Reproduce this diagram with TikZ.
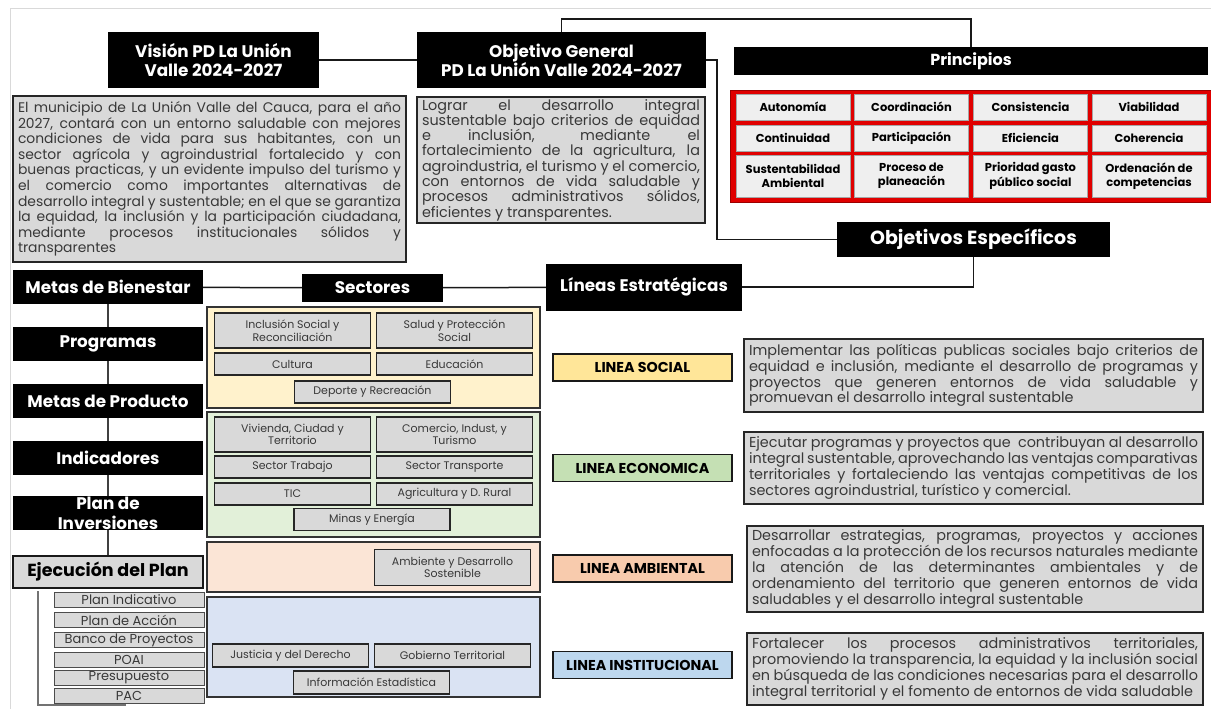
\documentclass[tikz,border=0pt]{standalone}
\usepackage{fontspec}
\setmainfont{Poppins}
\definecolor{boxgray}{HTML}{D9D9D9}
\definecolor{txtgray}{HTML}{383838}
\definecolor{cellgray}{HTML}{EFEFEF}
\definecolor{prinred}{HTML}{E00000}
\definecolor{socFrame}{HTML}{FFF2CC}
\definecolor{ecoFrame}{HTML}{E2F0D9}
\definecolor{ambFrame}{HTML}{FBE5D6}
\definecolor{insFrame}{HTML}{DAE3F3}
\definecolor{socFill}{HTML}{FFE699}
\definecolor{ecoFill}{HTML}{C5E0B4}
\definecolor{ambFill}{HTML}{F8CBAD}
\definecolor{insFill}{HTML}{BDD7EE}
\tikzset{
  hdr/.style     ={fill=black, text=white, inner sep=0pt, align=center,
                   font=\bfseries\fontsize{16.8}{19}\selectfont},
  colhdr/.style  ={hdr, minimum width=190pt, minimum height=34pt},
  txtbox/.style  ={draw=black!85, line width=1.8pt, fill=boxgray, text=txtgray,
                   align=justify, inner xsep=5pt, inner ysep=0pt,
                   font=\fontsize{13.9}{15.6}\selectfont},
  ltxt/.style    ={txtbox, line width=1.6pt, font=\fontsize{14.4}{15.8}\selectfont},
  pcell/.style   ={fill=cellgray, draw=black!35, line width=0.5pt, inner sep=0pt,
                   align=center, minimum width=114pt,
                   font=\bfseries\fontsize{11.5}{14.5}\selectfont},
  sframe/.style  ={draw=black!80, line width=1.3pt, inner sep=0pt,
                   minimum width=333pt},
  sec/.style     ={fill=boxgray, draw=black!85, line width=1.2pt, text=txtgray,
                   inner sep=0pt, align=center, minimum width=156pt,
                   font=\fontsize{11}{12.5}\selectfont},
  linea/.style   ={draw=black!90, line width=1.8pt, inner sep=0pt,
                   minimum width=179pt, minimum height=27pt,
                   font=\bfseries\fontsize{14.3}{16}\selectfont},
  plan/.style    ={fill=boxgray, draw=black!70, line width=1pt, text=txtgray,
                   inner sep=0pt, minimum width=150pt, minimum height=15pt,
                   font=\fontsize{13}{14}\selectfont},
  link/.style    ={draw=black!90, line width=1.5pt},
  chain/.style   ={draw=black!75, line width=1.3pt},
  brk/.style     ={draw=black!55, line width=1.3pt},
  pageframe/.style={draw=black!15, line width=1pt},
}

\begin{document}
\begin{tikzpicture}[x=1pt, y=-1pt]
\useasboundingbox (0,0) rectangle (1211,709);

% --- page frame ---
\draw[pageframe] (10,709) -- (10,9) -- (1211,9);

% --- top headers ---
\node[hdr, minimum width=211pt, minimum height=56pt] (vision) at (213.5,60)
  {Visión PD La Unión\\Valle 2024-2027};
\node[hdr, minimum width=289pt, minimum height=56pt] (objgen) at (561.5,60)
  {Objetivo General\\PD La Unión Valle 2024-2027};
\node[hdr, minimum width=474pt, minimum height=28pt,
      font=\bfseries\fontsize{16}{18}\selectfont] (princ) at (971,61)
  {Principios};
\node[hdr, minimum width=273pt, minimum height=35pt,
      font=\bfseries\fontsize{19}{21}\selectfont] (objesp) at (973.5,239.5)
  {Objetivos Específicos};

% --- vision / objetivo texts ---
\node[txtbox, text width=383pt, minimum height=166pt] (visionTxt) at (209.5,179)
  {El municipio de La Unión Valle del Cauca, para el año\linebreak
   2027, contará con un entorno saludable con mejores\linebreak
   condiciones de vida para sus habitantes, con un\linebreak
   sector agrícola y agroindustrial fortalecido y con\linebreak
   buenas practicas, y un evidente impulso del turismo y\linebreak
   el comercio como importantes alternativas de\linebreak
   desarrollo integral y sustentable; en el que se garantiza\linebreak
   la equidad, la inclusión y la participación ciudadana,\linebreak
   mediante procesos institucionales sólidos y\linebreak
   transparentes};

\node[txtbox, text width=278pt, minimum height=126pt,
      font=\fontsize{14.4}{15.3}\selectfont] (objTxt) at (561,160)
  {Lograr el desarrollo integral\linebreak
   sustentable bajo criterios de equidad\linebreak
   e inclusión, mediante el\linebreak
   fortalecimiento de la agricultura, la\linebreak
   agroindustria, el turismo y el comercio,\linebreak
   con entornos de vida saludable y\linebreak
   procesos administrativos sólidos,\linebreak
   eficientes y transparentes.};

% --- principios grid ---
\node[fill=prinred, draw=prinred!70!black, line width=0.8pt, inner sep=0pt,
      minimum width=481pt, minimum height=112pt] (princFrame) at (970.5,146) {};
\node[pcell, minimum height=26pt] (autonomia)    at (793,107)    {Autonomía};
\node[pcell, minimum height=26pt] (coordinacion) at (911.5,107)  {Coordinación};
\node[pcell, minimum height=26pt] (consistencia) at (1030.5,107) {Consistencia};
\node[pcell, minimum height=26pt] (viabilidad)   at (1149,107)   {Viabilidad};
\node[pcell, minimum height=26pt] (continuidad)  at (793,138)    {Continuidad};
\node[pcell, minimum height=26pt] (participacion) at (911.5,138) {Participación};
\node[pcell, minimum height=26pt] (eficiencia)   at (1030.5,138) {Eficiencia};
\node[pcell, minimum height=26pt] (coherencia)   at (1149,138)   {Coherencia};
\node[pcell, minimum height=42pt] (sustentab)    at (793,176)    {Sustentabilidad\\Ambiental};
\node[pcell, minimum height=42pt] (planeacion)   at (911.5,176)  {Proceso de\\planeación};
\node[pcell, minimum height=42pt] (prioridad)    at (1030.5,176) {Prioridad gasto\\público social};
\node[pcell, minimum height=42pt] (ordenacion)   at (1149,176)   {Ordenación de\\competencias};

% --- left column ---
\node[colhdr] (metasB)  at (108,287) {Metas de Bienestar};
\node[colhdr] (prog)    at (108,344) {Programas};
\node[colhdr] (metasP)  at (108,401) {Metas de Producto};
\node[colhdr] (indic)   at (108,458) {Indicadores};
\node[colhdr, font=\bfseries\fontsize{16.8}{20}\selectfont] (planInv) at (108,513)
  {Plan de\\Inversiones};
\node[fill=boxgray, draw=black!90, line width=2pt, inner sep=0pt,
      minimum width=190pt, minimum height=32pt,
      font=\bfseries\fontsize{17.5}{19}\selectfont] (ejec) at (108,572)
  {Ejecución del Plan};

\node[plan] (planInd)  at (129,600)   {Plan Indicativo};
\node[plan] (planAcc)  at (129,620)   {Plan de Acción};
\node[plan] (banco)    at (129,640)   {Banco de Proyectos};
\node[plan] (poai)     at (129,659.5) {POAI};
\node[plan] (presup)   at (129,678)   {Presupuesto};
\node[plan] (pac)      at (129,695.5) {PAC};

\coordinate (brkTop) at (38,591);
\coordinate (brkEnd) at (126,705);
\draw[brk] (brkTop) |- (brkEnd);

\draw[chain] (metasB) -- (prog) -- (metasP) -- (indic) -- (planInv) -- (ejec);

% --- sectores ---
\node[hdr, minimum width=141pt, minimum height=28pt] (sectores) at (372.5,288)
  {Sectores};

\node[sframe, fill=socFrame, minimum height=101pt] (socBox) at (373.5,357.5) {};
\node[sframe, fill=ecoFrame, minimum height=125pt] (ecoBox) at (373.5,474.5) {};
\node[sframe, fill=ambFrame, minimum height=50pt]  (ambBox) at (373.5,567)   {};
\node[sframe, fill=insFrame, minimum height=100pt] (insBox) at (373.5,647)   {};

\node[sec, minimum height=35pt] (inclusion) at (292.5,330.5) {Inclusión Social y\\Reconciliación};
\node[sec, minimum height=35pt] (salud)     at (454.5,330.5) {Salud y Protección\\Social};
\node[sec, minimum height=22pt] (cultura)   at (292.5,364)   {Cultura};
\node[sec, minimum height=22pt] (educacion) at (454.5,364)   {Educación};
\node[sec, minimum height=22pt] (deporte)   at (372.5,392)   {Deporte y Recreación};

\node[sec, minimum height=35pt] (vivienda)  at (292.5,434.5) {Vivienda, Ciudad y\\Territorio};
\node[sec, minimum height=35pt] (comercio)  at (454.5,434.5) {Comercio, Indust, y\\Turismo};
\node[sec, minimum height=22pt] (trabajo)   at (292.5,467)   {Sector Trabajo};
\node[sec, minimum height=22pt] (transporte) at (454.5,467)  {Sector Transporte};
\node[sec, minimum height=22pt] (tic)       at (292.5,494)   {TIC};
\node[sec, minimum height=22pt] (agricult)  at (454.5,494)   {Agricultura y D. Rural};
\node[sec, minimum height=22pt] (minas)     at (372,519.5)   {Minas y Energía};

\node[sec, minimum height=36pt] (ambiente)  at (452.5,567.5) {Ambiente y Desarrollo\\Sostenible};

\node[sec, minimum height=23pt] (justicia)  at (290.5,655.5) {Justicia y del Derecho};
\node[sec, minimum height=23pt] (gobierno)  at (452.5,655.5) {Gobierno Territorial};
\node[sec, minimum height=23pt] (informac)  at (371.5,682.5) {Información Estadística};

% --- lineas estrategicas ---
\node[hdr, minimum width=196pt, minimum height=47pt] (lineas) at (644,287)
  {Líneas Estratégicas};

\node[linea, fill=socFill] (lSocial) at (642.5,367.5) {LINEA SOCIAL};
\node[linea, fill=ecoFill] (lEcon)   at (642.5,468)   {LINEA ECONOMICA};
\node[linea, fill=ambFill] (lAmb)    at (642.5,568.5) {LINEA AMBIENTAL};
\node[linea, fill=insFill] (lInst)   at (642.5,665)   {LINEA INSTITUCIONAL};

\node[ltxt, text width=449pt, minimum height=73pt] (tSocial) at (973.5,375.5)
  {Implementar las políticas publicas sociales bajo criterios de\linebreak
   equidad e inclusión, mediante el desarrollo de programas y\linebreak
   proyectos que generen entornos de vida saludable y\linebreak
   promuevan el desarrollo integral sustentable};
\node[ltxt, text width=449pt, minimum height=72pt] (tEcon) at (973.5,468)
  {Ejecutar programas y proyectos que\ \ contribuyan al desarrollo\linebreak
   integral sustentable, aprovechando las ventajas comparativas\linebreak
   territoriales y fortaleciendo las ventajas competitivas de los\linebreak
   sectores agroindustrial, turístico y comercial.};
\node[ltxt, text width=446pt, minimum height=86pt] (tAmb) at (975,569)
  {Desarrollar estrategias, programas, proyectos y acciones\linebreak
   enfocadas a la protección de los recursos naturales mediante\linebreak
   la atención de las determinantes ambientales y de\linebreak
   ordenamiento del territorio que generen entornos de vida\linebreak
   saludables y el desarrollo integral sustentable};
\node[ltxt, text width=446pt, minimum height=72pt] (tInst) at (975,669)
  {Fortalecer los procesos administrativos territoriales,\linebreak
   promoviendo la transparencia, la equidad y la inclusión social\linebreak
   en búsqueda de las condiciones necesarias para el desarrollo\linebreak
   integral territorial y el fomento de entornos de vida saludable};

% --- connectors ---
\draw[link] (vision) -- (objgen);
\draw[link] (objgen.north) -- ++(0,-13) -| (princ.north);
\draw[link] (objgen.east) -- ++(11,0) |- (objesp.west);
\draw[link] (objesp.south) |- (lineas.east);
\draw[link] (metasB) -- (sectores);
\draw[link] (sectores) -- (lineas);

\end{tikzpicture}
\end{document}
